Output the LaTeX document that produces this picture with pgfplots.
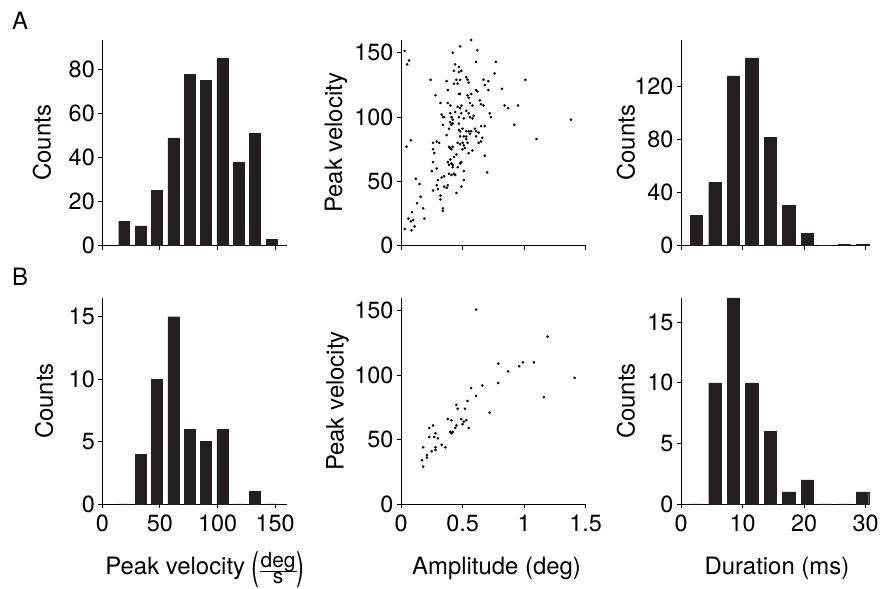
\documentclass[border=0pt]{standalone}
\usepackage{amsmath}
\usepackage{graphicx}
\usepackage{fontspec}
\setmainfont{TeX Gyre Heros}
\usepackage{pgfplots}
\usepackage{pgfplotstable}
\pgfplotsset{compat=1.18}
\definecolor{barc}{HTML}{231F20}

\pgfplotstableread{
x y
0.03 151.5
0.05 141
0.065 144
0.045 77
0.08 82
0.03 13
0.06 21
0.08 19
0.085 12
0.10 20
0.11 15
0.09 26
0.12 52
0.15 48
0.13 33
0.16 38
0.18 29
0.19 21
0.24 129
0.28 117
0.26 80
0.27 72
0.26 75
0.29 81
0.31 80
0.26 65
0.29 60
0.25 58
0.29 47
0.26 43
0.30 44
0.30 51
0.32 39
0.32 36
0.34 29
0.34 27
0.33 53
0.35 54
0.35 46
0.37 45
0.38 47
0.32 111
0.33 102
0.34 100
0.35 100
0.34 94
0.37 128
0.38 121
0.38 111
0.40 109
0.37 86
0.39 91
0.40 103
0.41 100
0.40 96
0.41 94
0.42 95
0.42 98
0.44 104
0.39 77
0.40 76
0.41 75
0.42 77
0.38 65
0.40 67
0.41 64
0.42 63
0.39 63
0.42 61
0.39 56
0.41 55
0.43 56
0.44 55
0.43 69
0.45 71
0.45 41
0.43 126
0.45 129
0.43 136
0.44 141
0.47 139
0.48 155
0.49 136
0.47 135
0.42 150
0.46 126
0.48 129
0.47 118
0.48 118
0.46 108
0.48 107
0.49 109
0.47 100
0.49 103
0.51 99
0.47 95
0.47 90
0.48 89
0.50 91
0.48 85
0.51 85
0.46 80
0.48 79
0.50 80
0.51 78
0.50 75
0.52 76
0.48 64
0.49 65
0.46 61
0.51 58
0.51 51
0.49 46
0.53 131
0.54 129
0.55 127
0.54 117
0.55 115
0.57 118
0.56 111
0.58 109
0.53 105
0.55 103
0.56 100
0.58 99
0.59 101
0.53 89
0.55 89
0.56 87
0.57 89
0.53 85
0.54 80
0.55 72
0.53 83
0.58 74
0.57 160
0.62 152
0.61 143
0.61 121
0.62 120
0.64 113
0.65 110
0.67 109
0.60 91
0.61 89
0.63 88
0.61 85
0.63 80
0.65 81
0.66 84
0.65 93
0.68 93
0.67 129
0.68 125
0.71 128
0.71 121
0.72 103
0.73 100
0.68 70
0.70 57
0.77 143
0.76 134
0.82 122
0.84 109
0.87 107
0.92 94
0.95 109
1.01 129
1.10 83
1.38 98
}\scatterA

\pgfplotstableread{
x y
0.61 151
1.19 130
0.79 109
0.99 110
1.08 110
0.96 107
0.87 103
0.79 94
0.66 92
0.57 90
0.61 84
1.16 83
1.41 98
0.72 71
0.54 80
0.45 77
0.46 74
0.52 74
0.38 66
0.41 65
0.49 66
0.51 64
0.53 65
0.50 62
0.45 61
0.44 59
0.55 59
0.40 56
0.41 55
0.42 56
0.23 59
0.26 61
0.23 52
0.28 55
0.27 52
0.30 51
0.18 44
0.21 38
0.21 36
0.25 41
0.28 44
0.28 42
0.33 46
0.36 44
0.17 34
0.18 29
}\scatterB

\newcommand{\degs}{%
  \raisebox{-5bp}{\scalebox{1}[1.6]{(}}%
  \raisebox{-2bp}{\fontsize{21}{21}\selectfont
    \setlength{\tabcolsep}{1bp}\renewcommand{\arraystretch}{0.85}%
    \begin{tabular}[c]{c}deg\\[-2bp]\hline s\end{tabular}}%
  \raisebox{-5bp}{\scalebox{1}[1.6]{)}}}

\pgfplotsset{
  myax/.style={
    scale only axis,
    axis lines*=left,
    axis line style={line width=0.9bp, black},
    tick style={line width=0.9bp, black},
    tick align=outside,
    major tick length=4bp,
    xmin=0, ymin=0,
    tick label style={font=\fontsize{23.5}{26}\selectfont, black},
    xticklabel style={yshift=-3bp},
    label style={font=\fontsize{24}{28}\selectfont, black},
    /pgf/number format/assume math mode=true,
    clip=false,
  },
  yl/.style={ylabel style={at={(axis description cs:#1,0.5)}, anchor=center}},
  xl/.style={xlabel style={at={(axis description cs:#1,-0.34)}, anchor=base, inner sep=0pt}},
  bars/.style={ybar, fill=barc, draw=barc, line width=0.4bp},
  dots/.style={only marks, mark=*, mark size=1.1bp, black},
}

\begin{document}
\begin{tikzpicture}[x=1bp,y=1bp]
\useasboundingbox (0,0) rectangle (883,589);

\node[font=\fontsize{24}{28}\selectfont] at (20,568) {A};
\node[font=\fontsize{24}{28}\selectfont] at (20,312) {B};

% ---- Row A ----
\begin{axis}[myax, at={(102.3bp,343.3bp)}, anchor=south west,
  width=184.4bp, height=205.7bp,
  xmax=160, ymax=93.5,
  xtick={0,50,100,150}, xticklabels={},
  ytick={0,20,40,60,80},
  ylabel={Counts}, yl=-0.327]
\addplot[bars, bar width=9.5] coordinates {
(19,11) (33.2,9) (47.4,25) (61.6,49) (75.8,78) (90,75) (104.2,85) (118.4,38) (132.6,51) (146.8,3)};
\end{axis}

\begin{axis}[myax, at={(401bp,343.3bp)}, anchor=south west,
  width=184.7bp, height=205.7bp,
  xmax=1.5, ymax=160,
  xtick={0,0.5,1,1.5}, xticklabels={},
  ytick={0,50,100,150},
  ylabel={Peak velocity}, yl=-0.352]
\addplot[dots] table[x=x,y=y] {\scatterA};
\end{axis}

\begin{axis}[myax, at={(681bp,343.3bp)}, anchor=south west,
  width=187.7bp, height=205.7bp,
  xmax=30.5, ymax=155,
  xtick={0,10,20,30}, xticklabels={},
  ytick={0,40,80,120},
  ylabel={Counts}, yl=-0.293]
\addplot[bars, bar width=2] coordinates {
(2.5,23) (5.5,47.5) (8.5,128) (11.5,141.5) (14.5,81.5) (17.5,30.5) (20.5,9.3) (23.5,0) (26.5,1) (29.5,1)};
\end{axis}

% ---- Row B ----
\begin{axis}[myax, at={(102.3bp,85bp)}, anchor=south west,
  width=184.4bp, height=206bp,
  xmax=160, ymax=16.5,
  xtick={0,50,100,150},
  ytick={0,5,10,15},
  ylabel={Counts}, yl=-0.315,
  xlabel={Peak velocity \degs}, xl=0.557]
\addplot[bars, bar width=9.5] coordinates {
(19,0) (33.2,4) (47.4,10) (61.6,15) (75.8,6) (90,5) (104.2,6) (118.4,0) (132.6,1) (146.8,0)};
\end{axis}

\begin{axis}[myax, at={(401bp,85bp)}, anchor=south west,
  width=184.7bp, height=206bp,
  xmax=1.5, ymax=160,
  xtick={0,0.5,1,1.5},
  ytick={0,50,100,150},
  ylabel={Peak velocity}, yl=-0.344,
  xlabel={Amplitude (deg)}, xl=0.517]
\addplot[dots] table[x=x,y=y] {\scatterB};
\end{axis}

\begin{axis}[myax, at={(681bp,85bp)}, anchor=south west,
  width=187.7bp, height=206bp,
  xmax=30.5, ymax=17,
  xtick={0,10,20,30},
  ytick={0,5,10,15},
  ylabel={Counts}, yl=-0.293,
  xlabel={Duration (ms)}, xl=0.511]
\addplot[bars, bar width=2] coordinates {
(2.5,0) (5.5,10) (8.5,17) (11.5,10) (14.5,6) (17.5,1) (20.5,2) (23.5,0) (26.5,0) (29.5,1)};
\end{axis}
\end{tikzpicture}
\end{document}
